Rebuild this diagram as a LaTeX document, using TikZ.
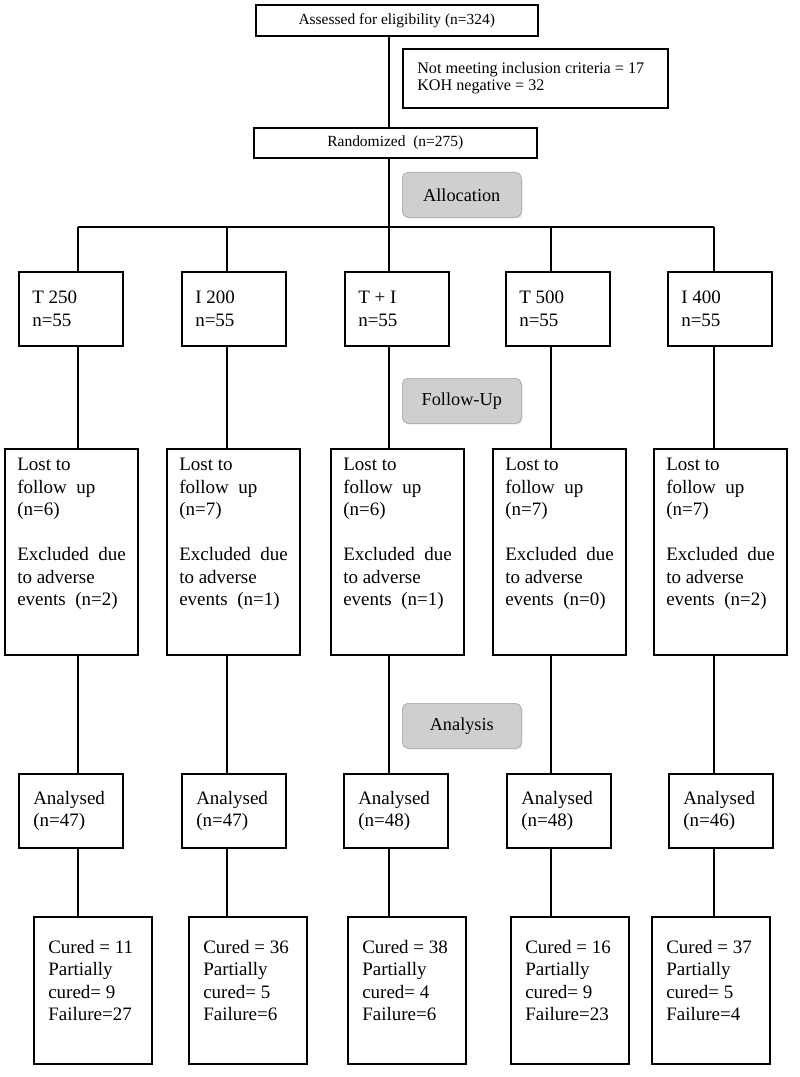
\documentclass[tikz,border=0pt]{standalone}
\usepackage{fontspec}
\setmainfont{Liberation Serif}
\usetikzlibrary{positioning, calc, shadows}

\newlength{\pxu}
\setlength{\pxu}{0.025cm}

\tikzset{
  box/.style={draw, line width=1.1pt, fill=white, anchor=north west, inner sep=0pt,
    drop shadow={shadow xshift=1.2pt, shadow yshift=-1.2pt, opacity=0.35, fill=black!70}},
  txt/.style={align=left, inner sep=0pt, font=\fontsize{13.5}{16}\selectfont},
  stage/.style={draw=gray!75, fill=gray!38, rounded corners=4pt, anchor=north west,
    minimum width=119\pxu, minimum height=45\pxu, font=\fontsize{13}{15}\selectfont,
    drop shadow={shadow xshift=0.8pt, shadow yshift=-0.8pt, opacity=0.25, fill=black!60}},
  link/.style={line width=1pt}
}

\begin{document}
\begin{tikzpicture}[x=0.025cm,y=-0.025cm]
\useasboundingbox (0,0) rectangle (800,1077);

% Enrolment
\node[box, minimum width=282\pxu, minimum height=31\pxu, font=\fontsize{11}{13}\selectfont] (assess) at (255,4) {Assessed for eligibility (n=324)};
\node[box, minimum width=265\pxu, minimum height=59\pxu] (excl) at (402,48) {};
\node[txt, anchor=west, font=\fontsize{11.5}{11.8}\selectfont] (exclt) at ($(excl.west)+(15,0)$) {Not meeting inclusion criteria = 17\\KOH negative = 32};
\node[box, minimum width=283\pxu, minimum height=30\pxu, font=\fontsize{11}{13}\selectfont] (rand) at (253,127) {Randomized\ \ (n=275)};

% Stage labels
\node[stage] (alloc) at (402,172) {Allocation};
\node[stage] (follow) at (402,378) {Follow-Up};
\node[stage] (anal) at (402,703) {Analysis};

% Bus points
\foreach \i/\x in {1/78,2/227,3/389,4/551,5/714} {
    \coordinate (bus\i) at (\x,227);
}

% Allocated groups
\foreach \i/\x/\grp in {1/18/T 250,2/181/I 200,3/344/T + I,4/505/T 500,5/667/I 400} {
    \node[box, minimum width=104\pxu, minimum height=74\pxu] (grp\i) at (\x,271) {};
    \node[txt, anchor=west] (grpt\i) at ($(grp\i.west)+(14,0)$) {\grp\\n=55};
}

% Follow-up
\foreach \i/\x/\lost/\adv in {1/4/6/2,2/166/7/1,3/330/6/1,4/492/7/0,5/653/7/2} {
    \node[box, minimum width=133\pxu, minimum height=206\pxu] (fu\i) at (\x,448) {};
    \node[txt, anchor=north west] (fut\i) at ($(fu\i.north west)+(13,10)$)
        {Lost to\\follow\ \ up\\(n=\lost)\\[16pt]Excluded\ \ due\\to adverse\\events\ \ (n=\adv)};
}

% Analysed
\foreach \i/\x/\n in {1/18/47,2/181/47,3/343/48,4/506/48,5/668/46} {
    \node[box, minimum width=104\pxu, minimum height=74\pxu] (an\i) at (\x,773) {};
    \node[txt, anchor=west] (ant\i) at ($(an\i.west)+(15,0)$) {Analysed\\(n=\n)};
}

% Outcomes
\foreach \i/\x/\c/\p/\f in {1/33/11/9/27,2/188/36/5/6,3/347/38/4/6,4/510/16/9/23,5/651/37/5/4} {
    \node[box, minimum width=118\pxu, minimum height=147\pxu] (res\i) at (\x,916) {};
    \node[txt, anchor=north west] (rest\i) at ($(res\i.north west)+(15,24)$)
        {Cured = \c\\Partially\\cured= \p\\Failure=\f};
}

% Connections
\draw[link] (assess.south -| bus3) -- (rand.north -| bus3);
\draw[link] (rand.south -| bus3) -- (bus3);
\draw[link] (bus1) -- (bus5);
\foreach \i in {1,...,5} {
    \draw[link] (bus\i) -- (grp\i.north -| bus\i);
    \draw[link] (grp\i.south -| bus\i) -- (fu\i.north -| bus\i);
    \draw[link] (fu\i.south -| bus\i) -- (an\i.north -| bus\i);
    \draw[link] (an\i.south -| bus\i) -- (res\i.north -| bus\i);
}

\end{tikzpicture}
\end{document}
